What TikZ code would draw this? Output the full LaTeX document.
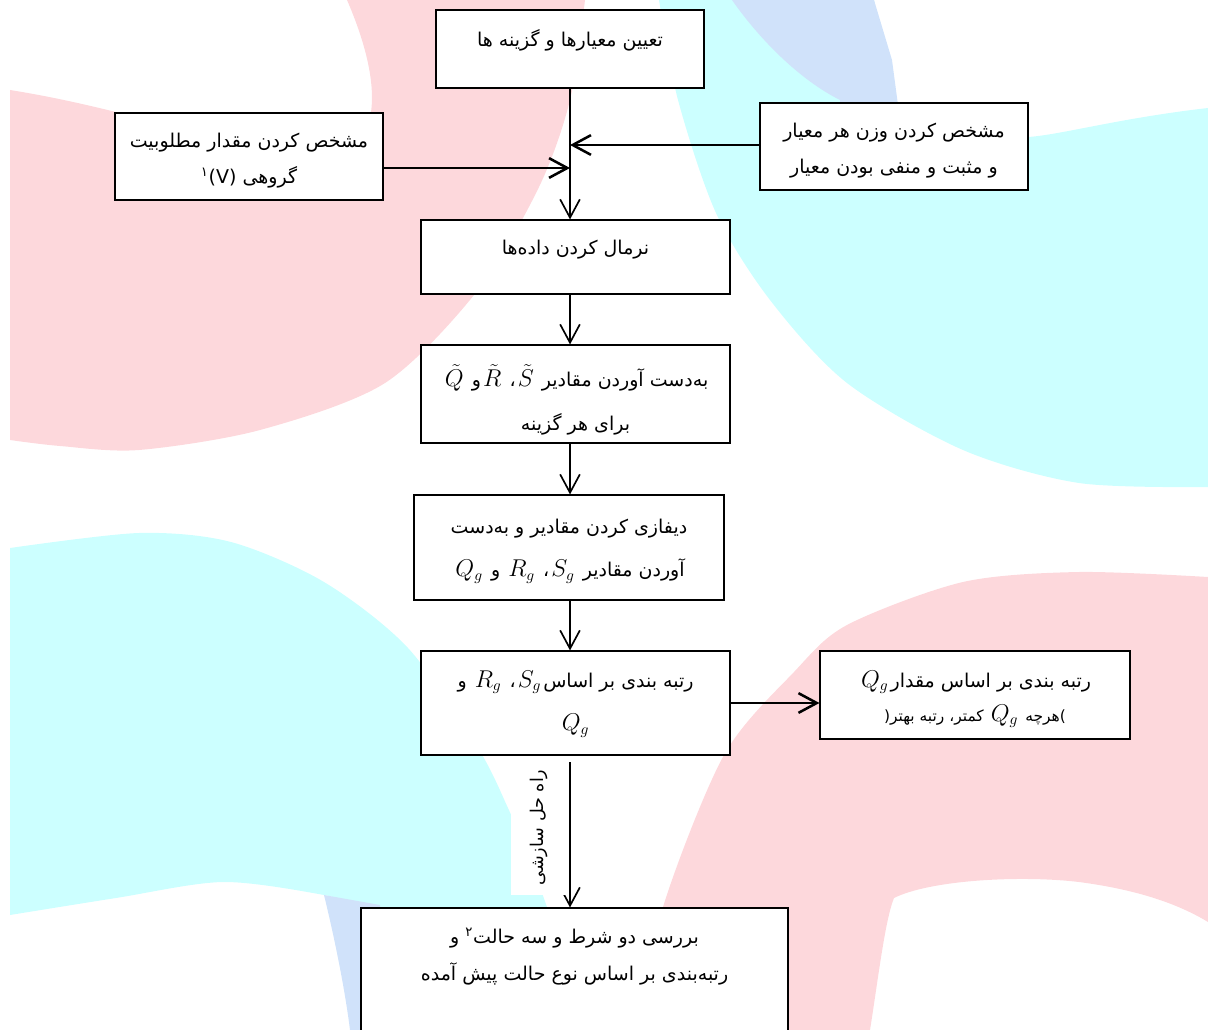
\documentclass[tikz,border=0pt]{standalone}
\usepackage{fontspec}
\usepackage{amsmath}
\usetikzlibrary{arrows.meta}
\newfontfamily\fafont[Script=Arabic]{DejaVu Sans}
\TeXXeTstate=1

\definecolor{pinkbg}{RGB}{253,216,220}
\definecolor{cyanbg}{RGB}{204,255,255}
\definecolor{lavbg}{RGB}{208,226,250}

\newdimen\pxu \pxu=0.025cm
\newcommand{\fa}[1]{\beginR#1\endR}
\newcommand{\mth}[1]{\hbox{\fontsize{16}{18}\selectfont\kern1.5pt$#1$\kern1.5pt}}
\newcommand{\stagetext}[3]{\parbox[c][#2\pxu][t]{#1\pxu}{\centering\fafont\fontsize{13.5}{26}\selectfont\vspace*{14pt}#3}}

\begin{document}
\begin{tikzpicture}[x=0.025cm, y=-0.025cm,
		stage/.style={draw, fill=white, inner sep=0pt, line width=0.8pt},
		flow/.style={-{Straight Barb[length=13pt, width=14pt]}, line width=1.2pt},
		feed/.style={flow, line width=1.8pt}]

		\useasboundingbox (0,0) rectangle (1208,1030);
		\clip (0,0) rectangle (1208,1030);

		%background
		\fill[pinkbg] (10,440) -- (10,90) .. controls (60,98) and (100,108) .. (140,118) -- (370,118) .. controls (378,80) and (360,30) .. (347,0) -- plot[smooth] coordinates {(585,0) (570,100) (539,187) (478,290) (385,383) (260,430) (139,450) (60,446) (10,440)} -- cycle;
		\fill[cyanbg] plot[smooth] coordinates {(659,0) (678,100) (716,213) (770,300) (847,383) (963,450) (1079,483) (1208,487)} -- (1208,108) .. controls (1120,118) and (1060,135) .. (1028,137) .. controls (960,135) and (900,110) .. (890,100) -- (874,0) -- cycle;
		\fill[lavbg] (732,0) .. controls (760,40) and (800,80) .. (840,100) -- (840,120) -- (900,120) -- (892,60) -- (874,0) -- cycle;
		\fill[cyanbg] plot[smooth] coordinates {(10,548) (139,533) (231,542) (324,582) (408,648) (478,748) (508,808) (530,860) (548,910)} -- plot[smooth] coordinates {(362,907) (324,895) (223,882) (116,898) (10,915)} -- cycle;
		\fill[lavbg] (324,895) .. controls (335,940) and (345,990) .. (350,1030) -- (380,1030) -- (380,905) -- cycle;
		\fill[pinkbg] plot[smooth] coordinates {(1208,577) (1079,572) (963,582) (847,625) (794,672) (724,755) (663,907) (640,1030)} -- (870,1030) .. controls (878,980) and (885,920) .. (894,898) .. controls (930,880) and (1020,875) .. (1079,882) .. controls (1140,890) and (1180,905) .. (1208,922) -- cycle;

		%stages
		\node[stage] (criteria) at (570,49) {\stagetext{268}{78}{\fa{تعیین معیارها و گزینه ها}}};
		\node[stage] (utility) at (249,156.5) {\stagetext{268}{87}{\fa{مشخص کردن مقدار مطلوبیت}\\ \fa{گروهی \hbox{(V)}\textsuperscript{۱}}}};
		\node[stage] (weights) at (894,146.5) {\stagetext{268}{87}{\fa{مشخص کردن وزن هر معیار}\\ \fa{و مثبت و منفی بودن معیار}}};
		\node[stage] (normal) at (575.5,257) {\stagetext{309}{74}{\fa{نرمال کردن داده‌ها}}};
		\node[stage] (values) at (575.5,394) {\stagetext{309}{98}{\fa{به‌دست آوردن مقادیر \mth{\tilde{S}}، \mth{\tilde{R}}و \mth{\tilde{Q}}}\\[5pt] \fa{برای هر گزینه}}};
		\node[stage] (defuzz) at (569,547.5) {\stagetext{310}{105}{\vspace*{3pt}\fa{دیفازی کردن مقادیر و به‌دست}\\[5pt] \fa{آوردن مقادیر \mth{S_g}، \mth{R_g} و \mth{Q_g}}}};
		\node[stage] (ranks) at (575.5,703) {\stagetext{309}{104}{\fa{رتبه بندی بر اساس\mth{S_g}، \mth{R_g} و}\\[5pt] \fa{\mth{Q_g}}}};
		\node[stage] (qrank) at (975,695) {\stagetext{310}{88}{\fa{رتبه بندی بر اساس مقدار\mth{Q_g}}\\[-2pt] {\fontsize{11}{12}\selectfont\fa{\hbox{)}هرچه \mth{Q_g} کمتر، رتبه بهتر\hbox{(}}}}};
		\node[stage] (check) at (574.5,978) {\stagetext{427}{140}{\fa{بررسی دو شرط و سه حالت\textsuperscript{۲} و}\\ \fa{رتبه‌بندی بر اساس نوع حالت پیش آمده}}};

		%links
		\coordinate (win) at ([yshift=1.5\pxu]weights.west);
		\coordinate (vin) at ([yshift=-11.5\pxu]utility.east);
		\coordinate (split) at (570,762);
		\draw[flow] (criteria.south) -- (criteria.south |- normal.north);
		\draw[feed] (win) -- (win -| criteria.south);
		\draw[feed] (vin) -- (vin -| criteria.south);
		\draw[flow] (criteria.south |- normal.south) -- (criteria.south |- values.north);
		\draw[flow] (criteria.south |- values.south) -- (criteria.south |- defuzz.north);
		\draw[flow] (criteria.south |- defuzz.south) -- (criteria.south |- ranks.north);
		\draw[feed] (ranks.east) -- (ranks.east -| qrank.west);
		\draw[flow] (split) -- (split |- check.north) node[pos=0.45, anchor=south, rotate=90, fill=white, outer sep=2pt, minimum width=135\pxu, minimum height=56\pxu] (compromise) {\fafont\fontsize{12.5}{14}\selectfont\fa{راه حل سازشی}};
	\end{tikzpicture}
\end{document}
